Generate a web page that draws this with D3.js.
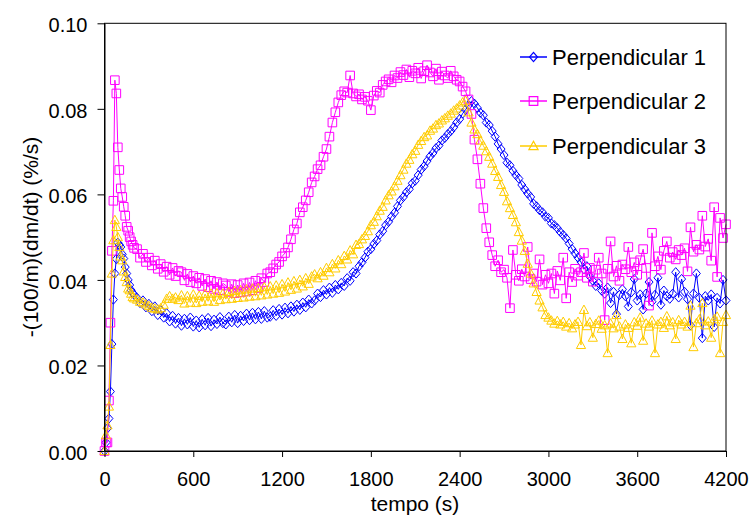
<!DOCTYPE html>
<html><head><meta charset="utf-8">
<script src="https://cdn.jsdelivr.net/npm/d3@7"></script>
<style>
html,body{margin:0;padding:0;background:#fff;}
svg{display:block;font-family:Arial,"Liberation Sans",sans-serif;}
</style></head>
<body>
<svg id="chart" width="754" height="520"></svg>
<script>
const times = [0,10,20,30,40,50,60,70,80,90,100,110,120,130,140,150,160,170,180,190,200,
220,240,260,280,300,320,340,360,380,400,420,440,460,480,500,
520,540,560,580,600,620,640,660,680,700,720,740,760,780,800,
820,840,860,880,900,920,940,960,980,1000,1020,1040,1060,1080,1100,
1120,1140,1160,1180,1200,1220,1240,1260,1280,1300,1320,1340,1360,1380,1400,
1420,1440,1460,1480,1500,1520,1540,1560,1580,1600,1620,1640,1660,1680,1700,
1720,1740,1760,1780,1800,1820,1840,1860,1880,1900,1920,1940,1960,1980,2000,
2020,2040,2060,2080,2100,2120,2140,2160,2180,2200,2220,2240,2260,2280,2300,
2320,2340,2360,2380,2400,2420,2440,2460,2480,2500,2520,2540,2560,2580,2600,
2620,2640,2660,2680,2700,2720,2740,2760,2780,2800,2820,2840,2860,2880,2900,
2920,2940,2960,2980,3000,3020,3040,3060,3080,3100,3120,3140,3160,3180,3200,
3220,3240,3260,3280,3300,3320,3340,3360,3380,3400,3420,3440,3460,3480,3500,
3520,3540,3560,3580,3600,3620,3640,3660,3680,3700,3720,3740,3760,3780,3800,
3820,3840,3860,3880,3900,3920,3940,3960,3980,4000,4020,4040,4060,4080,4100,
4120,4140,4160,4180,4200];

const perp1 = [0,0.002,0.0053,0.0076,0.0139,0.025,0.0354,0.0415,0.0449,0.0487,0.0482,0.0477,0.046,0.045,0.043,0.0415,0.040,0.0388,0.0376,0.037,0.0365,
0.0358,0.0346,0.0352,0.0336,0.0344,0.0327,0.0338,0.0318,0.0329,0.0312,0.0322,0.0303,0.0316,0.0298,0.0311,
0.0293,0.0309,0.0296,0.0312,0.0291,0.0305,0.0289,0.0308,0.0294,0.0311,0.0292,0.0307,0.0297,0.0313,0.0299,
0.0296,0.0314,0.0301,0.0318,0.0299,0.0316,0.0304,0.0321,0.0306,0.0323,0.0308,0.0325,0.0309,0.0327,0.0312,
0.0314,0.0329,0.0316,0.0332,0.0319,0.0335,0.0322,0.0338,0.0326,0.0342,0.033,0.0347,0.0336,0.0354,0.0345,
0.0352,0.0368,0.036,0.0376,0.0366,0.0382,0.037,0.0388,0.0378,0.0393,0.0386,0.0404,0.0398,0.0418,0.0415,
0.0432,0.0441,0.0452,0.0466,0.0472,0.0484,0.0492,0.0506,0.0514,0.0528,0.0536,0.0548,0.0557,0.0572,0.0586,
0.0594,0.0605,0.0612,0.0626,0.0632,0.0645,0.0658,0.0666,0.0678,0.0689,0.0697,0.0708,0.0714,0.0726,0.0732,
0.0741,0.0748,0.0757,0.0768,0.0776,0.0789,0.0798,0.0808,0.0818,0.0812,0.0802,0.0791,0.0785,0.0768,0.0762,
0.0748,0.0735,0.0718,0.0706,0.0692,0.0674,0.0668,0.0655,0.0645,0.0637,0.0622,0.0612,0.0602,0.0594,0.0578,
0.0572,0.0563,0.0558,0.0548,0.0545,0.0532,0.0528,0.0521,0.0512,0.0505,0.0497,0.0485,0.0472,0.0462,0.0452,
0.0442,0.0425,0.0432,0.0408,0.0398,0.0386,0.0392,0.0375,0.0368,0.0382,0.0346,0.0372,0.032,0.0365,0.0378,
0.0362,0.0338,0.0371,0.0402,0.0352,0.0366,0.0331,0.0368,0.0395,0.0349,0.0365,0.0405,0.0342,0.0375,0.0362,
0.0356,0.0368,0.0418,0.0359,0.0402,0.0372,0.0355,0.0294,0.0368,0.0415,0.0358,0.0264,0.0362,0.0352,0.0366,
0.029,0.0358,0.0345,0.040,0.0352];

const perp2 = [0,0.002,0.002,0.0118,0.030,0.0468,0.0585,0.0867,0.0836,0.071,0.0657,0.0614,0.0594,0.0571,0.055,0.0524,0.0515,0.050,0.049,0.0482,0.0475,
0.0472,0.0452,0.0461,0.0442,0.0452,0.0434,0.0445,0.0426,0.0437,0.0419,0.0431,0.0412,0.0428,0.0409,0.0421,
0.0418,0.0399,0.0414,0.0395,0.0409,0.0392,0.0405,0.0386,0.0402,0.0383,0.0398,0.0379,0.0395,0.0376,0.0392,
0.0387,0.0372,0.039,0.0369,0.0388,0.0371,0.0392,0.0373,0.0394,0.0376,0.0398,0.0381,0.0404,0.0395,0.0415,
0.0418,0.0427,0.0436,0.0442,0.0455,0.0463,0.0476,0.0495,0.0518,0.0532,0.0558,0.057,0.0586,0.0605,0.0628,
0.0642,0.0659,0.0668,0.0688,0.0706,0.0735,0.0768,0.0792,0.0815,0.0832,0.0841,0.0838,0.0878,0.0836,0.0829,
0.0834,0.0822,0.0828,0.0819,0.0797,0.0831,0.0842,0.0838,0.0856,0.0864,0.0869,0.0862,0.0878,0.0872,0.0886,
0.0879,0.0892,0.0874,0.0889,0.0883,0.0896,0.0871,0.0888,0.0902,0.0885,0.0876,0.0894,0.0868,0.0887,0.0878,
0.0872,0.0889,0.0876,0.0868,0.0864,0.0852,0.0841,0.0822,0.0788,0.0728,0.0682,0.0625,0.0568,0.0521,0.0488,
0.0458,0.0432,0.0446,0.0418,0.0424,0.0405,0.0334,0.047,0.0412,0.0398,0.0425,0.0408,0.0477,0.0402,0.0415,
0.0396,0.0448,0.0389,0.0412,0.0392,0.0415,0.0368,0.0421,0.0399,0.0452,0.0357,0.0418,0.0395,0.0426,0.041,
0.0418,0.0463,0.0405,0.0428,0.0396,0.0424,0.0452,0.0415,0.0306,0.0426,0.049,0.0408,0.0433,0.0398,0.0436,
0.0425,0.0477,0.0418,0.0441,0.0412,0.0446,0.0472,0.0428,0.034,0.051,0.0432,0.0455,0.0424,0.0468,0.049,
0.0452,0.0465,0.0448,0.047,0.0458,0.0474,0.042,0.0523,0.0466,0.0482,0.0471,0.055,0.0478,0.0496,0.0445,
0.057,0.0407,0.0545,0.0498,0.053];

const perp3 = [0,0.0037,0.006,0.0104,0.0248,0.0415,0.0493,0.054,0.0524,0.050,0.0477,0.0455,0.0446,0.042,0.0407,0.0395,0.038,0.0376,0.0368,0.036,0.0357,
0.0354,0.0349,0.0347,0.0343,0.0339,0.0335,0.0333,0.0331,0.0334,0.0342,0.0356,0.0362,0.0356,0.0359,0.0353,
0.0364,0.0345,0.0362,0.0347,0.0366,0.0346,0.0363,0.0349,0.0367,0.035,0.0368,0.0349,0.0369,0.0353,0.0368,
0.0355,0.0372,0.0356,0.0374,0.0358,0.0376,0.0359,0.0378,0.0361,0.038,0.0362,0.0381,0.0364,0.0383,0.0366,
0.0385,0.0368,0.0387,0.037,0.039,0.0373,0.0394,0.0377,0.0397,0.038,0.04,0.0385,0.0404,0.0391,0.0408,
0.0413,0.0404,0.0418,0.041,0.0428,0.0418,0.0437,0.0427,0.0446,0.0437,0.0456,0.0448,0.0469,0.046,0.0482,
0.0484,0.0495,0.0503,0.0514,0.0528,0.0536,0.0549,0.0562,0.0571,0.0586,0.0598,0.0607,0.0619,0.0632,0.0645,
0.0658,0.0672,0.0681,0.0694,0.0702,0.0716,0.0725,0.0734,0.0738,0.0749,0.0754,0.0762,0.0766,0.0773,0.0778,
0.0784,0.0789,0.0796,0.0801,0.0808,0.0815,0.0819,0.0792,0.0768,0.0752,0.0741,0.0726,0.0714,0.0701,0.0688,
0.0672,0.0655,0.0641,0.0622,0.0606,0.0584,0.0568,0.0552,0.0535,0.0512,0.0492,0.0468,0.0438,0.0415,0.0392,
0.0372,0.0352,0.0336,0.0318,0.0312,0.0305,0.0298,0.0304,0.0296,0.0302,0.0291,0.0299,0.0287,0.0296,0.0302,
0.0248,0.033,0.0292,0.0301,0.0265,0.0297,0.0305,0.0286,0.0294,0.0229,0.0298,0.0287,0.0318,0.0291,0.0262,
0.0296,0.0288,0.0252,0.0301,0.0293,0.0312,0.0258,0.0298,0.0291,0.0305,0.0229,0.0296,0.0302,0.0288,0.0315,
0.0294,0.0301,0.0262,0.0306,0.0296,0.0302,0.0291,0.034,0.0243,0.0299,0.0308,0.0346,0.0294,0.0303,0.0265,
0.0308,0.0314,0.0229,0.0302,0.0318];

const seriesNames = ["Perpendicular 1","Perpendicular 2","Perpendicular 3"];
const seriesColors = ["#0000FF","#FF00FF","#FFCC00"];
const seriesShapes = ["diamond","square","triangle"];
const xTicks = [0,600,1200,1800,2400,3000,3600,4200];
const yTicks = [0,0.02,0.04,0.06,0.08,0.10];
const xTitle = "tempo (s)";
const yTitle = "-(100/m)(dm/dt) (%/s)";

const svg = d3.select("#chart");
const x = d3.scaleLinear().domain([0,4200]).range([104.5,726]);
const y = d3.scaleLinear().domain([0,0.1]).range([451,23.3]);

function markerPath(shape){
  if(shape==="diamond") return "M0,-4.6L4,0L0,4.6L-4,0Z";
  if(shape==="square") return "M-4.3,-4.3H4.3V4.3H-4.3Z";
  return "M0,-4.8L4.6,3.6H-4.6Z";
}

const allSeries = [perp1,perp2,perp3];
allSeries.forEach((vals,i)=>{
  const pts = times.map((t,j)=>[t,vals[j]]);
  const line = d3.line().x(d=>x(d[0])).y(d=>y(d[1]));
  const g = svg.append("g");
  g.append("path").attr("d",line(pts)).attr("fill","none")
    .attr("stroke",seriesColors[i]).attr("stroke-width",1);
  g.selectAll("path.m").data(pts).join("path").attr("class","m")
    .attr("transform",d=>`translate(${x(d[0])},${y(d[1])})`)
    .attr("d",markerPath(seriesShapes[i]))
    .attr("fill","none").attr("stroke",seriesColors[i]).attr("stroke-width",1);
});

// frame
svg.append("rect").attr("x",104.5).attr("y",23.3).attr("width",726-104.5).attr("height",451-23.3)
  .attr("fill","none").attr("stroke","#000").attr("stroke-width",1);

const yAxis = svg.append("g").attr("transform","translate(104.5,0)")
  .call(d3.axisLeft(y).tickValues(yTicks).tickSize(7).tickSizeOuter(0).tickPadding(10).tickFormat(d3.format(".2f")));
yAxis.select(".domain").attr("stroke","#000");
yAxis.selectAll("text").attr("font-size",20).attr("font-family","Arial, 'Liberation Sans', sans-serif").attr("fill","#000").attr("dy","0.42em");

const xAxis = svg.append("g").attr("transform","translate(0,451)")
  .call(d3.axisBottom(x).tickValues(xTicks).tickSize(6).tickSizeOuter(0).tickPadding(15).tickFormat(d3.format("d")));
xAxis.selectAll("text").attr("font-size",20).attr("font-family","Arial, 'Liberation Sans', sans-serif").attr("fill","#000");

svg.append("text").attr("x",415).attr("y",511).attr("text-anchor","middle")
  .attr("font-size",21).attr("fill","#000").text(xTitle);
svg.append("text").attr("transform","translate(38,237) rotate(-90)").attr("text-anchor","middle")
  .attr("font-size",21).attr("fill","#000").text(yTitle);

// legend
const legY = [57,101,146];
seriesNames.forEach((n,i)=>{
  const g = svg.append("g").attr("transform",`translate(0,${legY[i]})`);
  g.append("line").attr("x1",520).attr("x2",547).attr("y1",0).attr("y2",0)
    .attr("stroke",seriesColors[i]).attr("stroke-width",1.5);
  g.append("path").attr("transform","translate(533.5,0)").attr("d",markerPath(seriesShapes[i]))
    .attr("fill","none").attr("stroke",seriesColors[i]).attr("stroke-width",1.2);
  g.append("text").attr("x",552).attr("y",8).attr("font-size",22).attr("fill","#000").text(n);
});
</script>
</body></html>
